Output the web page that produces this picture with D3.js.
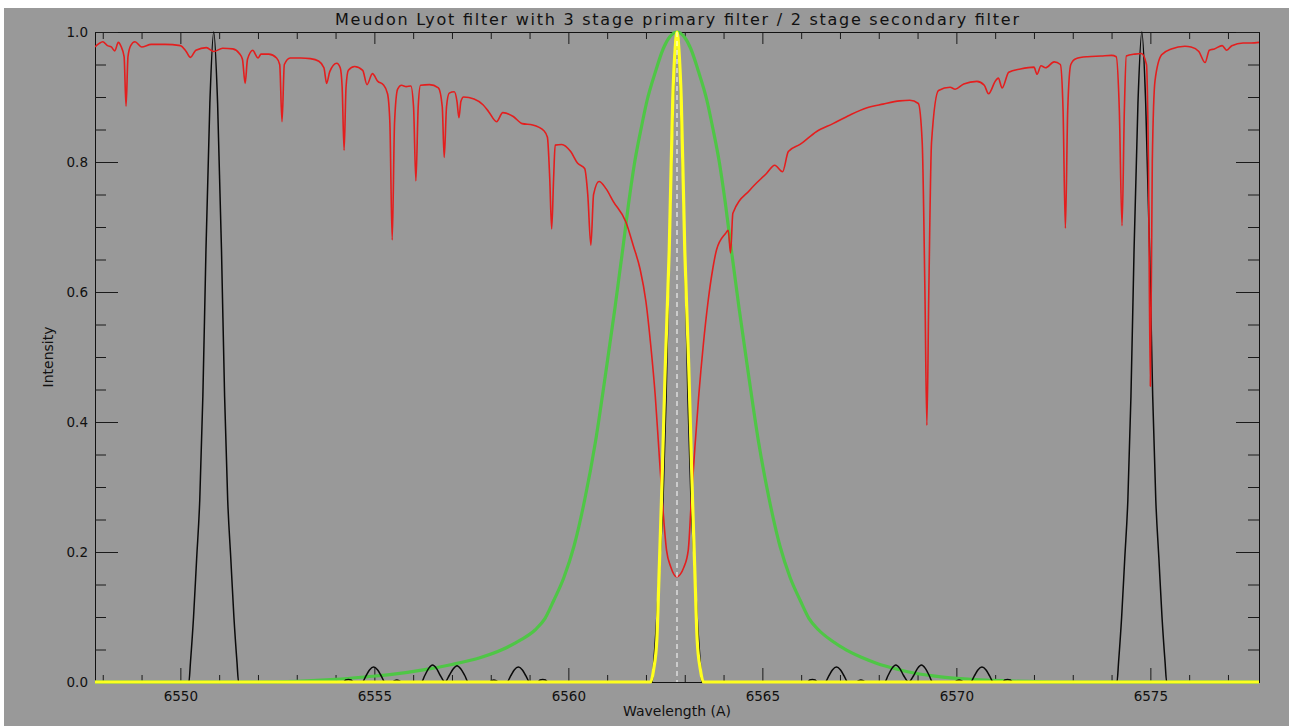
<!DOCTYPE html>
<html>
<head>
<meta charset="utf-8">
<script src="https://cdn.jsdelivr.net/npm/d3@7"></script>
<style>
  body { margin: 0; background: #fff; }
  text { font-family: "DejaVu Sans", sans-serif; fill: #111; }
</style>
</head>
<body>
<div id="chart"></div>
<script>

var title = "Meudon Lyot filter with 3 stage primary filter / 2 stage secondary filter";
var xLabel = "Wavelength (A)";
var yLabel = "Intensity";

var xMajorTicks = [6550, 6555, 6560, 6565, 6570, 6575];
var yMajorTicks = [0.0, 0.2, 0.4, 0.6, 0.8, 1.0];
var lineCentre = 6562.8;

// solar spectrum round H-alpha, [wavelength, intensity]
var spectrum = [
  [6547.80,0.977],[6547.90,0.982],[6548.00,0.985],[6548.12,0.979],[6548.22,0.977],[6548.31,0.971],
  [6548.40,0.984],[6548.47,0.978],[6548.55,0.962],[6548.60,0.886],[6548.65,0.962],[6548.72,0.979],
  [6548.83,0.985],[6549.00,0.977],[6549.25,0.981],[6549.60,0.981],[6550.00,0.979],[6550.15,0.970],
  [6550.26,0.961],[6550.40,0.972],[6550.67,0.976],[6550.86,0.970],[6551.09,0.975],[6551.35,0.974],
  [6551.52,0.967],[6551.60,0.958],[6551.67,0.921],[6551.73,0.958],[6551.87,0.972],[6551.93,0.966],
  [6552.00,0.960],[6552.08,0.966],[6552.28,0.966],[6552.48,0.960],[6552.56,0.950],[6552.62,0.862],
  [6552.68,0.950],[6552.83,0.960],[6553.10,0.960],[6553.35,0.959],[6553.57,0.955],[6553.70,0.945],
  [6553.77,0.921],[6553.85,0.939],[6554.03,0.952],[6554.12,0.945],[6554.17,0.915],[6554.22,0.818],
  [6554.27,0.915],[6554.33,0.941],[6554.49,0.947],[6554.70,0.941],[6554.81,0.919],[6554.95,0.936],
  [6555.09,0.924],[6555.23,0.919],[6555.34,0.905],[6555.40,0.860],[6555.46,0.680],[6555.52,0.860],
  [6555.60,0.912],[6555.70,0.918],[6555.82,0.916],[6555.94,0.917],[6556.01,0.885],[6556.07,0.771],
  [6556.13,0.885],[6556.19,0.918],[6556.42,0.919],[6556.65,0.914],[6556.75,0.885],[6556.80,0.807],
  [6556.86,0.885],[6556.93,0.906],[6557.06,0.908],[6557.13,0.893],[6557.18,0.868],[6557.23,0.893],
  [6557.30,0.900],[6557.57,0.897],[6557.80,0.888],[6557.95,0.877],[6558.15,0.862],[6558.31,0.876],
  [6558.58,0.870],[6558.81,0.859],[6559.08,0.857],[6559.37,0.848],[6559.46,0.838],[6559.52,0.775],
  [6559.57,0.697],[6559.62,0.775],[6559.66,0.826],[6559.83,0.827],[6560.06,0.816],[6560.24,0.798],
  [6560.42,0.790],[6560.50,0.750],[6560.58,0.672],[6560.65,0.750],[6560.79,0.770],[6560.97,0.759],
  [6561.16,0.739],[6561.48,0.708],[6561.68,0.670],[6561.85,0.635],[6562.00,0.585],[6562.12,0.520],
  [6562.24,0.440],[6562.33,0.360],[6562.42,0.280],[6562.53,0.203],[6562.64,0.177],[6562.79,0.162],
  [6562.98,0.177],[6563.09,0.203],[6563.17,0.280],[6563.26,0.360],[6563.36,0.440],[6563.48,0.520],
  [6563.60,0.585],[6563.72,0.635],[6563.82,0.665],[6564.05,0.690],[6564.12,0.695],[6564.18,0.660],
  [6564.24,0.721],[6564.68,0.757],[6565.10,0.782],[6565.32,0.795],[6565.52,0.785],[6565.67,0.816],
  [6565.97,0.827],[6566.40,0.847],[6566.82,0.859],[6567.25,0.872],[6567.68,0.883],[6568.11,0.889],
  [6568.54,0.894],[6568.80,0.895],[6569.02,0.890],[6569.12,0.830],[6569.19,0.600],[6569.24,0.395],
  [6569.29,0.600],[6569.36,0.830],[6569.54,0.910],[6569.84,0.915],[6569.97,0.912],[6570.19,0.920],
  [6570.53,0.924],[6570.72,0.918],[6570.83,0.905],[6571.01,0.925],[6571.08,0.929],[6571.18,0.914],
  [6571.35,0.938],[6571.65,0.943],[6572.00,0.946],[6572.08,0.935],[6572.18,0.948],[6572.30,0.945],
  [6572.52,0.954],[6572.68,0.950],[6572.75,0.880],[6572.81,0.698],[6572.87,0.880],[6572.95,0.950],
  [6573.08,0.959],[6573.38,0.962],[6573.73,0.963],[6574.00,0.964],[6574.12,0.962],[6574.20,0.880],
  [6574.27,0.702],[6574.33,0.880],[6574.38,0.963],[6574.60,0.966],[6574.77,0.967],[6574.90,0.950],
  [6574.95,0.800],[6575.00,0.455],[6575.05,0.800],[6575.12,0.925],[6575.29,0.965],[6575.54,0.974],
  [6575.89,0.978],[6576.05,0.977],[6576.25,0.970],[6576.41,0.953],[6576.52,0.972],[6576.65,0.974],
  [6576.85,0.979],[6576.97,0.972],[6577.10,0.979],[6577.39,0.983],[6577.60,0.983],[6577.80,0.984]
];

// primary filter comb (black)
var primary = [
  [6547.80,0],[6550.22,0],[6550.26,0.03],[6550.34,0.10],[6550.42,0.19],[6550.50,0.28],[6550.58,0.44],
  [6550.66,0.665],[6550.76,0.89],[6550.86,1.0],[6550.96,0.89],[6551.06,0.665],[6551.14,0.44],
  [6551.22,0.28],[6551.30,0.19],[6551.38,0.10],[6551.46,0.03],[6551.50,0],
  [6554.20,0],[6554.26,0.003],[6554.33,0.004],[6554.40,0.003],[6554.46,0],
  [6554.69,0],[6554.78,0.009],[6554.88,0.019],[6554.98,0.023],[6555.08,0.019],[6555.18,0.009],[6555.27,0],
  [6555.46,0],[6555.52,0.002],[6555.58,0.003],[6555.64,0.002],[6555.70,0],
  [6556.21,0],[6556.30,0.010],[6556.40,0.021],[6556.50,0.026],[6556.60,0.021],[6556.70,0.010],[6556.82,0],
  [6556.93,0.010],[6557.03,0.020],[6557.13,0.025],[6557.23,0.020],[6557.33,0.010],[6557.42,0],
  [6557.96,0],[6558.02,0.002],[6558.08,0.003],[6558.14,0.002],[6558.20,0],
  [6558.42,0],[6558.51,0.009],[6558.61,0.019],[6558.71,0.023],[6558.81,0.019],[6558.91,0.009],[6559.00,0],
  [6559.21,0],[6559.27,0.003],[6559.34,0.004],[6559.41,0.003],[6559.47,0],
  [6562.16,0],[6562.20,0.03],[6562.28,0.10],[6562.36,0.19],[6562.44,0.28],[6562.52,0.44],
  [6562.60,0.665],[6562.70,0.89],[6562.80,1.0],[6562.90,0.89],[6563.00,0.665],[6563.08,0.44],
  [6563.16,0.28],[6563.24,0.19],[6563.32,0.10],[6563.40,0.03],[6563.44,0],
  [6566.16,0],[6566.22,0.003],[6566.29,0.004],[6566.36,0.003],[6566.42,0],
  [6566.62,0],[6566.71,0.009],[6566.81,0.019],[6566.91,0.023],[6567.01,0.019],[6567.11,0.009],[6567.20,0],
  [6567.42,0],[6567.48,0.002],[6567.54,0.003],[6567.60,0.002],[6567.66,0],
  [6568.15,0],[6568.24,0.010],[6568.34,0.021],[6568.44,0.026],[6568.54,0.021],[6568.64,0.010],[6568.77,0],
  [6568.90,0.010],[6569.00,0.021],[6569.10,0.026],[6569.20,0.021],[6569.30,0.010],[6569.39,0],
  [6569.95,0],[6570.01,0.002],[6570.07,0.003],[6570.13,0.002],[6570.19,0],
  [6570.37,0],[6570.46,0.009],[6570.56,0.019],[6570.66,0.023],[6570.76,0.019],[6570.86,0.009],[6570.95,0],
  [6571.19,0],[6571.25,0.003],[6571.32,0.004],[6571.39,0.003],[6571.45,0],
  [6574.14,0],[6574.18,0.03],[6574.26,0.10],[6574.34,0.19],[6574.42,0.28],[6574.50,0.44],
  [6574.58,0.665],[6574.68,0.89],[6574.78,1.0],[6574.88,0.89],[6574.98,0.665],[6575.06,0.44],
  [6575.14,0.28],[6575.22,0.19],[6575.30,0.10],[6575.38,0.03],[6575.42,0],
  [6577.80,0]
];

// secondary filter (green)
var secondary = [
  [6547.80,0],[6552.00,0],[6553.00,0.001],[6554.00,0.004],[6554.80,0.008],[6555.50,0.012],
  [6556.30,0.019],[6557.00,0.027],[6557.70,0.037],[6558.30,0.050],[6558.75,0.064],[6559.14,0.080],
  [6559.40,0.098],[6559.62,0.125],[6559.88,0.160],[6560.15,0.210],[6560.42,0.280],[6560.70,0.370],
  [6560.95,0.470],[6561.20,0.575],[6561.40,0.665],[6561.55,0.735],[6561.71,0.800],[6561.87,0.850],
  [6562.03,0.895],[6562.25,0.940],[6562.45,0.975],[6562.62,0.993],[6562.80,1.000],[6562.98,0.993],
  [6563.15,0.975],[6563.35,0.940],[6563.57,0.895],[6563.73,0.850],[6563.89,0.800],[6564.05,0.735],
  [6564.20,0.665],[6564.40,0.575],[6564.65,0.470],[6564.90,0.370],[6565.18,0.280],[6565.45,0.210],
  [6565.72,0.160],[6565.98,0.125],[6566.20,0.098],[6566.45,0.080],[6566.80,0.063],[6567.17,0.049],
  [6567.55,0.038],[6567.94,0.029],[6568.45,0.020],[6568.97,0.013],[6569.60,0.008],[6570.20,0.005],
  [6571.20,0.002],[6572.50,0],[6577.80,0]
];

// combined filter (yellow)
var combined = [
  [6547.80,0],[6562.12,0],[6562.20,0.02],[6562.28,0.065],[6562.34,0.17],[6562.40,0.28],[6562.50,0.49],
  [6562.60,0.665],[6562.69,0.895],[6562.75,0.972],[6562.80,1.0],[6562.85,0.972],[6562.91,0.895],
  [6563.00,0.665],[6563.10,0.49],[6563.20,0.28],[6563.26,0.17],[6563.32,0.065],[6563.40,0.02],
  [6563.48,0],[6577.80,0]
];

var W = 1289, H = 726;
var margin = {left: 95, top: 32, right: 1259, bottom: 682};

var svg = d3.select("#chart").append("svg")
    .attr("width", W)
    .attr("height", H);

svg.append("rect").attr("width", W).attr("height", H).attr("fill", "#fff");
svg.append("rect").attr("x", 4).attr("y", 8).attr("width", W - 4).attr("height", H - 8).attr("fill", "#999999");

var x = d3.scaleLinear().domain([6547.8, 6577.8]).range([margin.left, margin.right]);
var y = d3.scaleLinear().domain([0, 1]).range([margin.bottom, margin.top]);

var xMinor = d3.range(6548, 6578, 1).filter(function(d){ return d % 5 !== 0; });
var yMinor = d3.range(0, 1.0001, 0.05).filter(function(d){ return Math.round(d * 100) % 20 !== 0; });

svg.append("defs").append("clipPath").attr("id", "plot")
  .append("rect")
    .attr("x", margin.left).attr("y", margin.top - 2)
    .attr("width", margin.right - margin.left).attr("height", margin.bottom - margin.top + 4);

function styleAxis(g) {
    g.selectAll("path").attr("stroke", "#111").attr("stroke-width", 1);
    g.selectAll("line").attr("stroke", "#1a1a1a").attr("stroke-width", 1);
    g.selectAll("text").attr("font-size", "13.5px").attr("fill", "#111")
        .attr("font-family", "DejaVu Sans, sans-serif");
}

// axes box
svg.append("g").attr("transform", "translate(0," + margin.bottom + ")")
    .call(d3.axisBottom(x).tickValues(xMajorTicks).tickSize(-14).tickSizeOuter(0).tickPadding(9)
        .tickFormat(d3.format("d")))
    .call(styleAxis);
svg.append("g").attr("transform", "translate(0," + margin.bottom + ")")
    .call(d3.axisBottom(x).tickValues(xMinor).tickSize(-7).tickSizeOuter(0).tickFormat(""))
    .call(styleAxis);
svg.append("g").attr("transform", "translate(0," + margin.top + ")")
    .call(d3.axisTop(x).tickValues(xMajorTicks).tickSize(-12).tickSizeOuter(0).tickFormat(""))
    .call(styleAxis);
svg.append("g").attr("transform", "translate(0," + margin.top + ")")
    .call(d3.axisTop(x).tickValues(xMinor).tickSize(-7).tickSizeOuter(0).tickFormat(""))
    .call(styleAxis);

svg.append("g").attr("transform", "translate(" + margin.left + ",0)")
    .call(d3.axisLeft(y).tickValues(yMajorTicks).tickSize(-23).tickSizeOuter(0).tickPadding(7)
        .tickFormat(d3.format(".1f")))
    .call(styleAxis);
svg.append("g").attr("transform", "translate(" + margin.left + ",0)")
    .call(d3.axisLeft(y).tickValues(yMinor).tickSize(-11).tickSizeOuter(0).tickFormat(""))
    .call(styleAxis);
svg.append("g").attr("transform", "translate(" + margin.right + ",0)")
    .call(d3.axisRight(y).tickValues(yMajorTicks).tickSize(-23).tickSizeOuter(0).tickFormat(""))
    .call(styleAxis);
svg.append("g").attr("transform", "translate(" + margin.right + ",0)")
    .call(d3.axisRight(y).tickValues(yMinor).tickSize(-11).tickSizeOuter(0).tickFormat(""))
    .call(styleAxis);

// curves
var plot = svg.append("g").attr("clip-path", "url(#plot)");

var smooth = d3.line()
    .x(function(d){ return x(d[0]); })
    .y(function(d){ return y(d[1]); })
    .curve(d3.curveMonotoneX);

plot.append("path").datum(secondary)
    .attr("d", smooth).attr("fill", "none")
    .attr("stroke", "#4fc646").attr("stroke-width", 3.2);

plot.append("path").datum(primary)
    .attr("d", smooth).attr("fill", "none")
    .attr("stroke", "#0a0a0a").attr("stroke-width", 1.5);

plot.append("path").datum(spectrum)
    .attr("d", smooth).attr("fill", "none")
    .attr("stroke", "#e41e1e").attr("stroke-width", 1.6).attr("stroke-linejoin", "round");

plot.append("path").datum(combined)
    .attr("d", smooth).attr("fill", "none")
    .attr("stroke", "#ffff1e").attr("stroke-width", 3.2);

plot.append("line")
    .attr("x1", x(lineCentre)).attr("x2", x(lineCentre))
    .attr("y1", y(1)).attr("y2", y(0))
    .attr("stroke", "#fff").attr("stroke-width", 1)
    .attr("stroke-dasharray", "5,4");

// texts
svg.append("text")
    .attr("x", (margin.left + margin.right) / 2).attr("y", 25)
    .attr("text-anchor", "middle").attr("font-size", "16px")
    .attr("textLength", 684).attr("lengthAdjust", "spacing")
    .text(title);

svg.append("text")
    .attr("x", (margin.left + margin.right) / 2).attr("y", 716)
    .attr("text-anchor", "middle").attr("font-size", "14px")
    .text(xLabel);

svg.append("text")
    .attr("transform", "translate(53,357) rotate(-90)")
    .attr("text-anchor", "middle").attr("font-size", "14px")
    .text(yLabel);

</script>
</body>
</html>
